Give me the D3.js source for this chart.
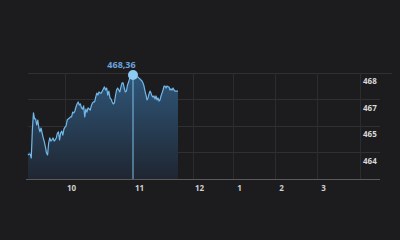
<!DOCTYPE html>
<html>
<head>
<meta charset="utf-8">
<script src="https://cdn.jsdelivr.net/npm/d3@7"></script>
<style>
  html, body { margin: 0; padding: 0; background: #1c1c1e; }
  svg { display: block; }
  text { font-family: "Open Sans", "DejaVu Sans", sans-serif; }
</style>
</head>
<body>
<div id="chart"></div>
<script>
// price series, one reading every 12 hours starting 14 Sep
const startDate = new Date(2023, 8, 14);
const stepHours = 12;
const prices = [
  464.74, 464.78, 464.78, 464.60, 465.87, 466.64, 466.37, 466.37, 466.10, 466.32,
  465.96, 465.78, 465.96, 465.73, 465.51, 465.33, 465.10, 464.83, 464.74, 465.28,
  465.51, 465.37, 465.42, 465.51, 465.37, 465.42, 465.51, 465.73, 465.78, 465.42,
  465.73, 465.82, 465.64, 465.91, 466.00, 466.05, 466.32, 466.37, 466.41, 466.46,
  466.46, 466.68, 466.64, 466.73, 466.91, 467.05, 467.14, 467.00, 467.05, 466.87,
  466.82, 466.96, 466.46, 466.82, 466.68, 466.87, 466.82, 466.77, 466.96, 467.09,
  467.14, 467.14, 467.36, 467.54, 467.45, 467.59, 467.54, 467.54, 467.63, 467.73,
  467.82, 467.68, 467.77, 467.45, 467.63, 467.32, 467.27, 467.14, 467.05, 467.09,
  467.41, 467.68, 467.77, 467.68, 467.59, 467.82, 468.00, 468.00, 467.77, 467.59,
  467.63, 467.91, 468.04, 468.22, 468.31, 468.31, 468.36, 468.27, 468.22, 468.27,
  468.27, 468.27, 468.22, 468.18, 468.13, 468.09, 468.00, 467.86, 467.63, 467.45,
  467.23, 467.32, 467.50, 467.63, 467.54, 467.41, 467.36, 467.41, 467.27, 467.41,
  467.23, 467.32, 467.18, 467.23, 467.41, 467.54, 467.68, 467.86, 467.86, 467.77,
  467.86, 467.82, 467.82, 467.68, 467.73, 467.68, 467.77, 467.68, 467.63, 467.63,
  467.63, 467.63
];
const highlightIndex = 96;

// month boundaries used for the x axis
const monthStarts = [
  new Date(2023, 9, 1), new Date(2023, 10, 1), new Date(2023, 11, 1),
  new Date(2024, 0, 1), new Date(2024, 1, 1), new Date(2024, 2, 1)
];
const monthLabels = ["10", "11", "12", "1", "2", "3"];
const axisEnd = new Date(2024, 3, 1);

// horizontal grid values and the labels shown in each band
const gridValues = [468.45, 467.25, 466.05, 464.85, 463.65];
const bandLabels = ["468", "467", "465", "464"];

const data = prices.map((p, i) => ({
  date: new Date(startDate.getTime() + i * stepHours * 3600 * 1000),
  value: p
}));

const width = 400, height = 240;
const plotLeft = 28, plotRight = 360, plotTop = 73, plotBottom = 179;

const svg = d3.select("#chart").append("svg")
  .attr("width", width)
  .attr("height", height);

svg.append("rect").attr("width", width).attr("height", height).attr("fill", "#1c1c1e");

// the months are not evenly wide on this chart, so use a piecewise time scale
const x = d3.scaleTime()
  .domain([startDate].concat(monthStarts, [axisEnd]))
  .range([plotLeft, 65, 133, 193, 233, 275, 317, plotRight]);

const y = d3.scaleLinear()
  .domain([gridValues[gridValues.length - 1], gridValues[0]])
  .range([plotBottom, plotTop]);

// gradient for area
const defs = svg.append("defs");
const grad = defs.append("linearGradient")
  .attr("id", "fillGrad")
  .attr("x1", 0).attr("y1", 0).attr("x2", 0).attr("y2", 1);
grad.append("stop").attr("offset", "0%").attr("stop-color", "#2f5679");
grad.append("stop").attr("offset", "100%").attr("stop-color", "#1f2631");

// horizontal grid
svg.append("g")
  .selectAll("line")
  .data(gridValues.slice(0, -1))
  .enter().append("line")
  .attr("x1", plotLeft)
  .attr("x2", (d, i) => i === 0 ? 392 : 380)
  .attr("y1", d => Math.round(y(d)) + 0.5)
  .attr("y2", d => Math.round(y(d)) + 0.5)
  .attr("stroke", "#303032")
  .attr("stroke-width", 1);

// vertical grid at month starts
svg.append("g")
  .selectAll("line")
  .data(monthStarts.concat([axisEnd]))
  .enter().append("line")
  .attr("x1", d => Math.round(x(d)) + 0.5)
  .attr("x2", d => Math.round(x(d)) + 0.5)
  .attr("y1", plotTop)
  .attr("y2", plotBottom)
  .attr("stroke", "#2c2c2e")
  .attr("stroke-width", 1);

// area + line
const area = d3.area()
  .x(d => x(d.date))
  .y0(plotBottom)
  .y1(d => y(d.value));

const line = d3.line()
  .x(d => x(d.date))
  .y(d => y(d.value));

svg.append("path")
  .datum(data)
  .attr("d", area)
  .attr("fill", "url(#fillGrad)");

svg.append("path")
  .datum(data)
  .attr("d", line)
  .attr("fill", "none")
  .attr("stroke", "#72b8eb")
  .attr("stroke-width", 1.2)
  .attr("stroke-linejoin", "round");

// x axis
const xAxis = d3.axisBottom(x)
  .tickValues(monthStarts)
  .tickFormat((d, i) => monthLabels[i])
  .tickSize(0)
  .tickPadding(6);

const gx = svg.append("g")
  .attr("transform", `translate(0,${plotBottom})`)
  .call(xAxis);
gx.select(".domain").remove();
gx.selectAll("text")
  .attr("dx", 6)
  .attr("fill", "#d0d0d0")
  .style("font-size", "8px")
  .style("font-weight", "bold");

svg.append("line")
  .attr("x1", 26).attr("x2", 380)
  .attr("y1", plotBottom + 0.5).attr("y2", plotBottom + 0.5)
  .attr("stroke", "#5a5a5c");

// y labels sit in the band below each grid line
const bandMid = gridValues.slice(0, -1).map((g, i) => (g + gridValues[i + 1]) / 2);
const yAxis = d3.axisRight(y)
  .tickValues(bandMid)
  .tickFormat((d, i) => bandLabels[i])
  .tickSize(0)
  .tickPadding(3);

const gy = svg.append("g")
  .attr("transform", `translate(${plotRight},-5)`)
  .call(yAxis);
gy.select(".domain").remove();
gy.selectAll("text")
  .attr("fill", "#d8d8d8")
  .style("font-size", "8px")
  .style("font-weight", "bold");

// highlighted point
const hp = data[highlightIndex];
svg.append("line")
  .attr("x1", x(hp.date)).attr("x2", x(hp.date))
  .attr("y1", y(hp.value)).attr("y2", plotBottom)
  .attr("stroke", "#7fbfe9")
  .attr("stroke-width", 1);

svg.append("circle")
  .attr("cx", x(hp.date))
  .attr("cy", y(hp.value))
  .attr("r", 5)
  .attr("fill", "#8ecbf2");

svg.append("text")
  .attr("x", x(hp.date) - 11.5)
  .attr("y", y(hp.value) - 6.5)
  .attr("text-anchor", "middle")
  .attr("fill", "#6aa3dc")
  .style("font-size", "9px")
  .style("font-weight", "bold")
  .text(hp.value.toFixed(2).replace(".", ","));
</script>
</body>
</html>
